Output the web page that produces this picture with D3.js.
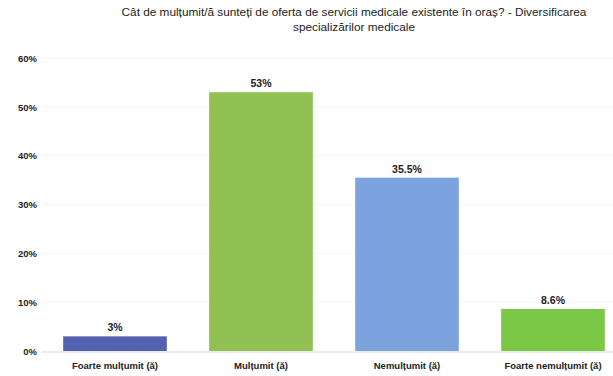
<!DOCTYPE html>
<html><head><meta charset="utf-8">
<script src="https://cdn.jsdelivr.net/npm/d3@7"></script>
<style>
body{margin:0;background:#fff;}
svg{display:block;}
text{font-family:"Liberation Sans Narrow","Arial Narrow","Liberation Sans",Arial,sans-serif;}
</style></head>
<body>
<script>
const categories = ["Foarte mulțumit (ă)", "Mulțumit (ă)", "Nemulțumit (ă)", "Foarte nemulțumit (ă)"];
const values = [3, 53, 35.5, 8.6];
const valueLabels = ["3%", "53%", "35.5%", "8.6%"];
const barColors = ["#5262b0", "#90c152", "#7ba4de", "#7bc846"];
const yTicks = [0, 10, 20, 30, 40, 50, 60];
const titleLines = ["Cât de mulțumit/ă sunteți de oferta de servicii medicale existente în oraș? - Diversificarea", "specializărilor medicale"];

const W = 613, H = 376;
const svg = d3.select("body").append("svg").attr("width", W).attr("height", H);

const x = d3.scaleBand().domain(categories).range([42, 626]).paddingInner(0.29).paddingOuter(0.145);
const y = d3.scaleLinear().domain([0, 60]).range([351, 58]);

// faint gridlines
svg.append("g").selectAll("line").data(yTicks.slice(1)).join("line")
  .attr("x1", 42).attr("x2", 613)
  .attr("y1", d => y(d)).attr("y2", d => y(d))
  .attr("stroke", "#f5f5f5").attr("stroke-width", 1);

// y axis
const yAxis = d3.axisLeft(y).tickValues(yTicks).tickFormat(d => d + "%").tickSize(0).tickPadding(0);
const gy = svg.append("g").attr("transform", "translate(37,0)").call(yAxis);
gy.select(".domain").remove();
gy.selectAll("text").attr("font-size", 9.5).attr("font-weight", "bold").attr("fill", "#222").attr("dy", "0.35em");

// bars
svg.append("g").selectAll("rect").data(values).join("rect")
  .attr("x", (d, i) => x(categories[i]))
  .attr("width", x.bandwidth())
  .attr("y", d => y(d))
  .attr("height", d => y(0) - y(d))
  .attr("fill", (d, i) => barColors[i]);

// baseline
svg.append("line").attr("x1", 42).attr("x2", 613).attr("y1", y(0) + 1).attr("y2", y(0) + 1)
  .attr("stroke", "#d9d9d9").attr("stroke-width", 1);

// value labels
svg.append("g").selectAll("text").data(values).join("text")
  .attr("x", (d, i) => x(categories[i]) + x.bandwidth() / 2)
  .attr("y", d => y(d) - 5)
  .attr("text-anchor", "middle")
  .attr("font-size", 10.5).attr("font-weight", "bold").attr("fill", "#222")
  .text((d, i) => valueLabels[i]);

// x axis
const xAxis = d3.axisBottom(x).tickSize(0).tickPadding(0);
const gx = svg.append("g").attr("transform", "translate(0,362)").call(xAxis);
gx.select(".domain").remove();
gx.selectAll("text").attr("font-size", 9.5).attr("font-weight", "bold").attr("fill", "#222").attr("dy", "0.71em");

// title
svg.append("g").selectAll("text").data(titleLines).join("text")
  .attr("x", 354).attr("y", (d, i) => 16 + i * 15)
  .attr("text-anchor", "middle")
  .attr("font-size", 11.8).attr("fill", "#222")
  .text(d => d);
</script>
</body></html>
